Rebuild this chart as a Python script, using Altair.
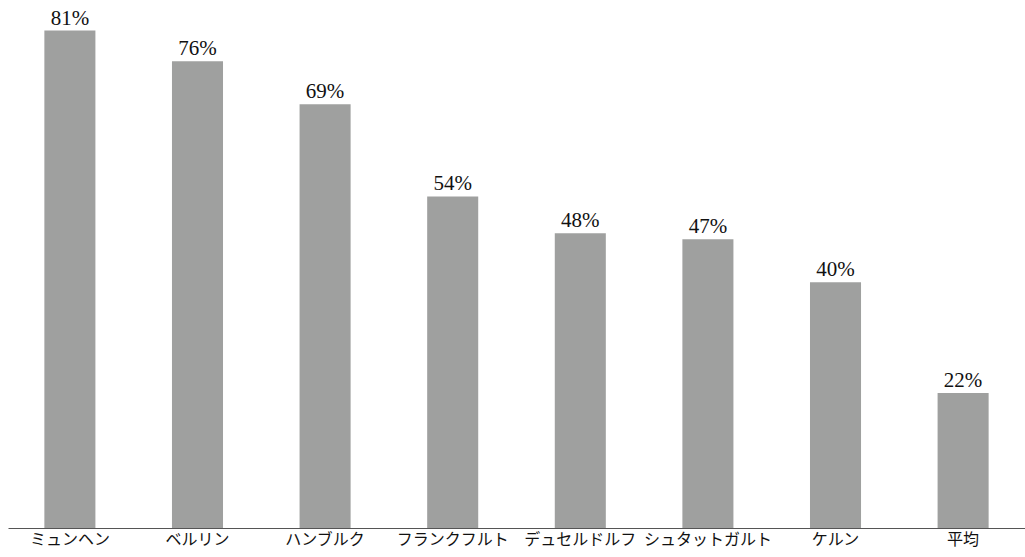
import altair as alt
import pandas as pd

cities = ["ミュンヘン", "ベルリン", "ハンブルク", "フランクフルト", "デュセルドルフ",
          "シュタットガルト", "ケルン", "平均"]
shares = [81, 76, 69, 54, 48, 47, 40, 22]

df = pd.DataFrame({"city": cities, "share": shares})
df["label"] = df["share"].astype(str) + "%"

x = alt.X(
    "city:N",
    sort=cities,
    title=None,
    scale=alt.Scale(paddingInner=0.6, paddingOuter=0.285),
    axis=alt.Axis(
        labelAngle=0,
        ticks=False,
        domainColor="#555555",
        domainWidth=1.2,
        labelFont="Noto Sans CJK JP",
        labelFontSize=16,
        labelColor="#111111",
        labelPadding=3,
        labelOverlap=False,
        labelLimit=200,
    ),
)
y = alt.Y(
    "share:Q",
    scale=alt.Scale(domain=[0, 85], nice=False, zero=True),
    axis=None,
)

bars = alt.Chart(df).mark_bar(color="#9fa09f").encode(x=x, y=y)
text = alt.Chart(df).mark_text(
    baseline="alphabetic", dy=-6, font="Liberation Serif", fontSize=21, color="#111111"
).encode(x=alt.X("city:N", sort=cities), y=y, text="label:N")

chart = (
    alt.layer(bars, text)
    .properties(
        width=1017,
        height=522,
        padding={"left": 8, "top": 6, "right": 0, "bottom": 29},
        autosize=alt.AutoSizeParams(type="none"),
        background="white",
    )
    .configure_view(stroke=None)
)

chart.save("out.html", embed_options={"renderer": "svg", "actions": False})
